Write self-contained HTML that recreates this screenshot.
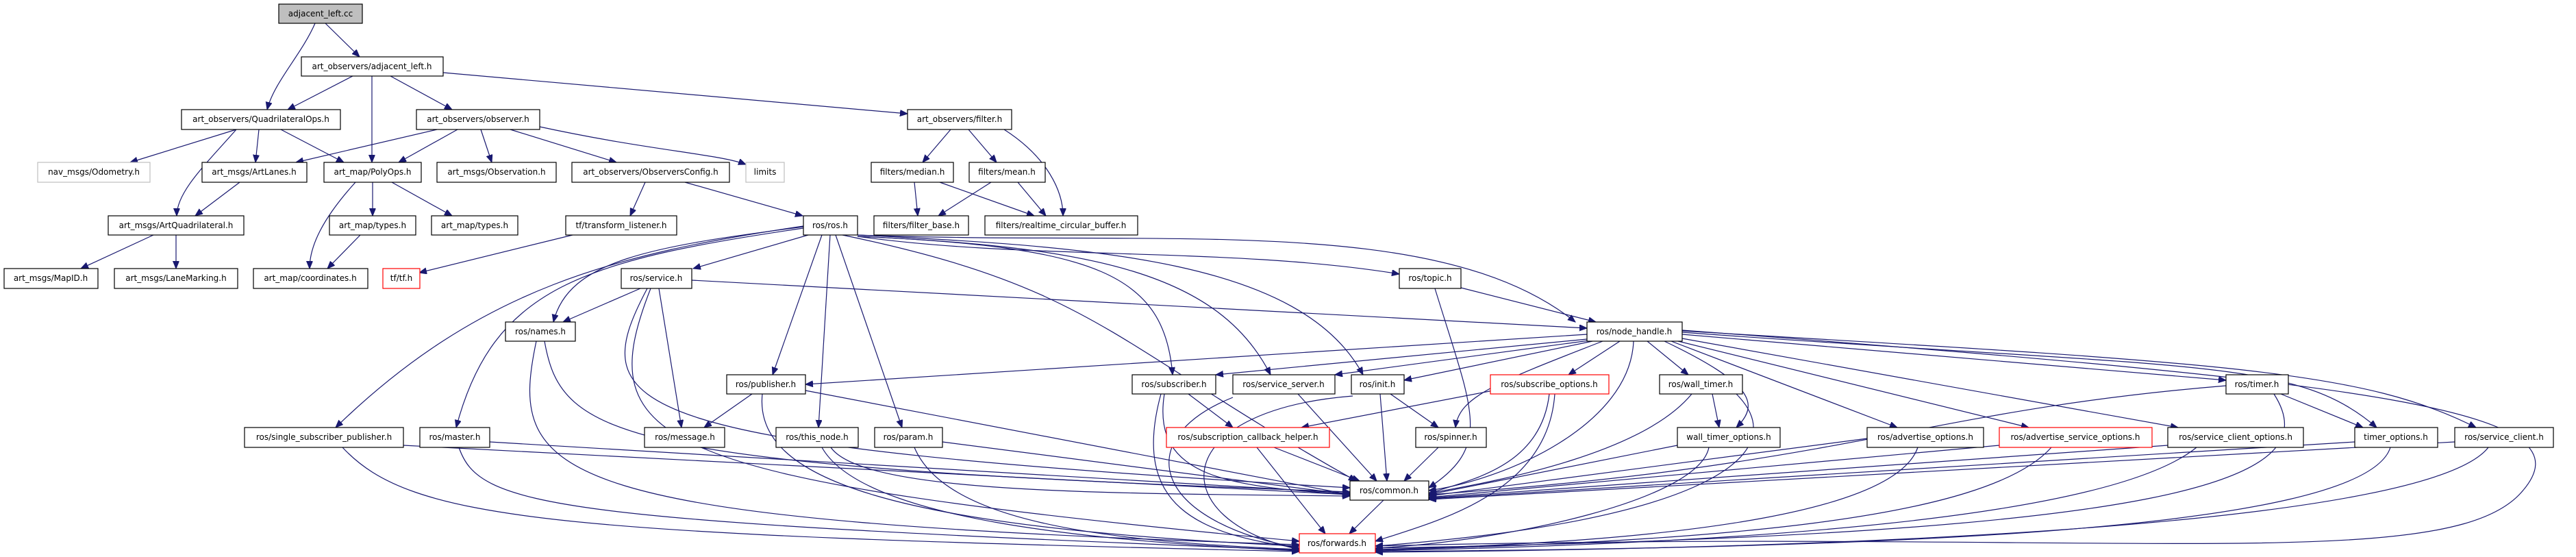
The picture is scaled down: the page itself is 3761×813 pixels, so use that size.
<!DOCTYPE html>
<html><head><meta charset="utf-8"><style>
html,body{margin:0;padding:0;background:#fff;width:3761px;height:813px;overflow:hidden}
svg{display:block}
text{font-family:"DejaVu Sans","Liberation Sans",sans-serif;font-size:12px;fill:#000;text-anchor:middle;dominant-baseline:central}
.e{fill:none;stroke:#191970;stroke-width:1.2;marker-end:url(#a)}
.n{fill:#fff;stroke:#000;stroke-width:1.2}
.r{fill:#fff;stroke:#f00;stroke-width:1.2}
.g{fill:#fff;stroke:#bfbfbf;stroke-width:1.2}
</style></head><body>
<svg width="3761" height="813" viewBox="0 0 3761 813" xmlns="http://www.w3.org/2000/svg">
<defs><marker id="a" markerUnits="userSpaceOnUse" markerWidth="12" markerHeight="10" refX="11" refY="4.5" orient="auto"><path d="M0,0 L11,4.5 L0,9 z" fill="#191970" stroke="#191970"/></marker></defs>
<g>
<path class="e" d="M475 34 L525 83"/>
<path class="e" d="M460 34 C440 80,400 120,390 160"/>
<path class="e" d="M515 111 L420 160"/>
<path class="e" d="M543 111 L543 237"/>
<path class="e" d="M570 111 L660 160"/>
<path class="e" d="M647 106 L1325 166"/>
<path class="e" d="M345 189 L190 237"/>
<path class="e" d="M378 189 L373 237"/>
<path class="e" d="M345 189 C300 240,258 280,258 315"/>
<path class="e" d="M410 189 L502 237"/>
<path class="e" d="M638 189 L432 237"/>
<path class="e" d="M668 189 L582 237"/>
<path class="e" d="M702 189 L718 237"/>
<path class="e" d="M745 189 L900 237"/>
<path class="e" d="M788 185 C950 220,1050 225,1089 240"/>
<path class="e" d="M1388 189 L1347 237"/>
<path class="e" d="M1414 189 L1455 237"/>
<path class="e" d="M1466 189 C1530 230,1552 280,1552 315"/>
<path class="e" d="M1335 266 L1340 315"/>
<path class="e" d="M1372 266 L1510 315"/>
<path class="e" d="M1447 266 L1370 315"/>
<path class="e" d="M1486 266 L1527 315"/>
<path class="e" d="M350 266 L285 315"/>
<path class="e" d="M544 266 L544 315"/>
<path class="e" d="M572 266 L660 315"/>
<path class="e" d="M519 266 C470 320,452 360,452 392"/>
<path class="e" d="M224 343 L118 392"/>
<path class="e" d="M257 343 L257 392"/>
<path class="e" d="M526 343 L478 392"/>
<path class="e" d="M942 266 L920 315"/>
<path class="e" d="M1000 266 L1172 315"/>
<path class="e" d="M836 343 L612 398"/>
<path class="e" d="M1180 343 L1012 392"/>
<path class="e" d="M1173 331 C950 360,830 380,808 470"/>
<path class="e" d="M1173 330 C900 370,700 420,490 624"/>
<path class="e" d="M1173 333 C850 380,720 420,666 624"/>
<path class="e" d="M1200 343 L1128 547"/>
<path class="e" d="M1212 343 L1195 624"/>
<path class="e" d="M1220 343 L1317 624"/>
<path class="e" d="M1230 343 C1600 420,1620 500,1980 702"/>
<path class="e" d="M1252 345 C1600 360,1700 400,1712 547"/>
<path class="e" d="M1252 345 C1600 360,1780 400,1855 547"/>
<path class="e" d="M1252 343 C1600 360,1900 380,1990 547"/>
<path class="e" d="M1252 345 C1500 380,1800 360,2043 400"/>
<path class="e" d="M1252 343 C1700 360,2100 310,2300 470"/>
<path class="e" d="M935 421 L822 470"/>
<path class="e" d="M962 421 L995 624"/>
<path class="e" d="M945 421 C850 600,900 650,1971 712"/>
<path class="e" d="M950 421 C860 650,950 700,1897 790"/>
<path class="e" d="M1010 409 L2317 479"/>
<path class="e" d="M795 498 C820 640,900 680,1971 718"/>
<path class="e" d="M783 498 C740 700,800 760,1897 795"/>
<path class="e" d="M1098 575 L1028 624"/>
<path class="e" d="M1176 570 L1971 722"/>
<path class="e" d="M1113 575 C1100 700,1300 770,1897 797"/>
<path class="e" d="M2133 420 L2330 470"/>
<path class="e" d="M2095 421 C2150 600,2180 650,2086 712"/>
<path class="e" d="M2317 488 L1176 561"/>
<path class="e" d="M2317 495 L1775 547"/>
<path class="e" d="M2320 497 L1949 547"/>
<path class="e" d="M2325 498 L2050 555"/>
<path class="e" d="M2340 498 C2180 560,2130 580,2125 624"/>
<path class="e" d="M2365 498 L2290 547"/>
<path class="e" d="M2385 498 C2380 620,2200 700,2086 716"/>
<path class="e" d="M2405 498 L2465 547"/>
<path class="e" d="M2430 498 C2560 560,2570 590,2535 624"/>
<path class="e" d="M2440 498 L2770 624"/>
<path class="e" d="M2450 498 L2962 624"/>
<path class="e" d="M2456 494 L3180 624"/>
<path class="e" d="M2456 488 L3250 555"/>
<path class="e" d="M2456 485 C3200 540,3350 520,3470 624"/>
<path class="e" d="M2456 483 C3250 530,3450 540,3615 624"/>
<path class="e" d="M2456 482 C3500 560,3790 600,3680 720 S3100 770,2008 797"/>
<path class="e" d="M2500 575 L2510 624"/>
<path class="e" d="M2470 575 C2400 660,2200 700,2086 720"/>
<path class="e" d="M2535 575 C2620 660,2500 760,2008 797"/>
<path class="e" d="M3330 575 L3450 624"/>
<path class="e" d="M3250 563 C2800 600,2700 680,2086 722"/>
<path class="e" d="M3320 575 C3400 700,3200 780,2008 800"/>
<path class="e" d="M1735 575 L1800 624"/>
<path class="e" d="M1700 575 C1680 700,1800 710,1971 722"/>
<path class="e" d="M1695 575 C1650 740,1750 780,1897 800"/>
<path class="e" d="M1895 575 L2010 702"/>
<path class="e" d="M1800 580 C1650 640,1680 760,1897 800"/>
<path class="e" d="M2030 575 L2100 624"/>
<path class="e" d="M2015 575 L2025 702"/>
<path class="e" d="M1975 578 C1700 600,1700 760,1897 802"/>
<path class="e" d="M2180 570 L1900 624"/>
<path class="e" d="M2262 575 C2250 680,2150 700,2086 720"/>
<path class="e" d="M2270 575 C2260 720,2100 760,2008 790"/>
<path class="e" d="M1860 653 L1985 702"/>
<path class="e" d="M1835 653 L1935 779"/>
<path class="e" d="M2100 653 L2050 702"/>
<path class="e" d="M589 650 L1971 722"/>
<path class="e" d="M500 653 C600 760,800 780,1897 805"/>
<path class="e" d="M715 645 L1971 720"/>
<path class="e" d="M670 653 C700 740,800 760,1897 803"/>
<path class="e" d="M1213 653 C1260 720,1600 720,1971 724"/>
<path class="e" d="M1200 653 C1260 760,1600 790,1897 804"/>
<path class="e" d="M1376 645 L1971 722"/>
<path class="e" d="M1335 653 C1380 760,1600 790,1897 802"/>
<path class="e" d="M2449 650 L2086 722"/>
<path class="e" d="M2495 653 C2480 730,2200 790,2008 800"/>
<path class="e" d="M2726 640 L2086 724"/>
<path class="e" d="M2800 653 C2770 740,2500 790,2008 802"/>
<path class="e" d="M2919 650 L2086 726"/>
<path class="e" d="M2995 653 C2900 760,2500 790,2008 803"/>
<path class="e" d="M3165 650 L2086 727"/>
<path class="e" d="M3207 653 C3100 740,2700 790,2008 804"/>
<path class="e" d="M3438 645 L2086 728"/>
<path class="e" d="M3490 653 C3450 780,2700 800,2008 805"/>
<path class="e" d="M3584 645 L2086 729"/>
<path class="e" d="M3633 653 C3550 760,2800 800,2008 806"/>
<path class="e" d="M2020 730 L1970 779"/>
</g>
<g>
<rect x="407" y="6" width="122" height="28" fill="#bfbfbf" stroke="#000" stroke-width="1.2"/><text x="468" y="20">adjacent_left.cc</text>
<rect class="n" x="440" y="83" width="207" height="28"/><text x="543" y="97">art_observers/adjacent_left.h</text>
<rect class="n" x="265" y="160" width="232" height="29"/><text x="381" y="174">art_observers/QuadrilateralOps.h</text>
<rect class="n" x="608" y="160" width="180" height="29"/><text x="698" y="174">art_observers/observer.h</text>
<rect class="n" x="1325" y="160" width="152" height="29"/><text x="1401" y="174">art_observers/filter.h</text>
<rect class="g" x="55" y="237" width="164" height="29"/><text x="137" y="251">nav_msgs/Odometry.h</text>
<rect class="n" x="295" y="237" width="153" height="29"/><text x="371" y="251">art_msgs/ArtLanes.h</text>
<rect class="n" x="473" y="237" width="142" height="29"/><text x="544" y="251">art_map/PolyOps.h</text>
<rect class="n" x="638" y="237" width="174" height="29"/><text x="725" y="251">art_msgs/Observation.h</text>
<rect class="n" x="835" y="237" width="230" height="29"/><text x="950" y="251">art_observers/ObserversConfig.h</text>
<rect class="g" x="1089" y="237" width="56" height="29"/><text x="1117" y="251">limits</text>
<rect class="n" x="1272" y="237" width="120" height="29"/><text x="1332" y="251">filters/median.h</text>
<rect class="n" x="1415" y="237" width="111" height="29"/><text x="1470" y="251">filters/mean.h</text>
<rect class="n" x="158" y="315" width="198" height="28"/><text x="257" y="329">art_msgs/ArtQuadrilateral.h</text>
<rect class="n" x="481" y="315" width="126" height="28"/><text x="544" y="329">art_map/types.h</text>
<rect class="n" x="630" y="315" width="126" height="28"/><text x="693" y="329">art_map/types.h</text>
<rect class="n" x="826" y="315" width="162" height="28"/><text x="907" y="329">tf/transform_listener.h</text>
<rect class="n" x="1173" y="315" width="79" height="28"/><text x="1212" y="329">ros/ros.h</text>
<rect class="n" x="1276" y="315" width="138" height="28"/><text x="1345" y="329">filters/filter_base.h</text>
<rect class="n" x="1438" y="315" width="223" height="28"/><text x="1549" y="329">filters/realtime_circular_buffer.h</text>
<rect class="n" x="6" y="392" width="137" height="29"/><text x="74" y="406">art_msgs/MapID.h</text>
<rect class="n" x="167" y="392" width="180" height="29"/><text x="257" y="406">art_msgs/LaneMarking.h</text>
<rect class="n" x="370" y="392" width="167" height="29"/><text x="453" y="406">art_map/coordinates.h</text>
<rect class="r" x="559" y="392" width="54" height="29"/><text x="586" y="406">tf/tf.h</text>
<rect class="n" x="907" y="392" width="103" height="29"/><text x="958" y="406">ros/service.h</text>
<rect class="n" x="2043" y="392" width="90" height="29"/><text x="2088" y="406">ros/topic.h</text>
<rect class="n" x="738" y="470" width="102" height="28"/><text x="789" y="484">ros/names.h</text>
<rect class="n" x="2317" y="470" width="139" height="28"/><text x="2386" y="484">ros/node_handle.h</text>
<rect class="n" x="1061" y="547" width="115" height="28"/><text x="1118" y="561">ros/publisher.h</text>
<rect class="n" x="1653" y="547" width="122" height="28"/><text x="1714" y="561">ros/subscriber.h</text>
<rect class="n" x="1800" y="547" width="149" height="28"/><text x="1874" y="561">ros/service_server.h</text>
<rect class="n" x="1973" y="547" width="77" height="28"/><text x="2011" y="561">ros/init.h</text>
<rect class="r" x="2176" y="547" width="173" height="28"/><text x="2262" y="561">ros/subscribe_options.h</text>
<rect class="n" x="2423" y="547" width="121" height="28"/><text x="2483" y="561">ros/wall_timer.h</text>
<rect class="n" x="3250" y="547" width="91" height="28"/><text x="3295" y="561">ros/timer.h</text>
<rect class="n" x="357" y="624" width="232" height="29"/><text x="473" y="638">ros/single_subscriber_publisher.h</text>
<rect class="n" x="613" y="624" width="102" height="29"/><text x="664" y="638">ros/master.h</text>
<rect class="n" x="941" y="624" width="117" height="29"/><text x="1000" y="638">ros/message.h</text>
<rect class="n" x="1133" y="624" width="120" height="29"/><text x="1193" y="638">ros/this_node.h</text>
<rect class="n" x="1277" y="624" width="99" height="29"/><text x="1326" y="638">ros/param.h</text>
<rect class="r" x="1703" y="624" width="238" height="29"/><text x="1822" y="638">ros/subscription_callback_helper.h</text>
<rect class="n" x="2067" y="624" width="103" height="29"/><text x="2118" y="638">ros/spinner.h</text>
<rect class="n" x="2449" y="624" width="150" height="29"/><text x="2524" y="638">wall_timer_options.h</text>
<rect class="n" x="2726" y="624" width="170" height="29"/><text x="2811" y="638">ros/advertise_options.h</text>
<rect class="r" x="2919" y="624" width="223" height="29"/><text x="3030" y="638">ros/advertise_service_options.h</text>
<rect class="n" x="3165" y="624" width="198" height="29"/><text x="3264" y="638">ros/service_client_options.h</text>
<rect class="n" x="3438" y="624" width="121" height="29"/><text x="3498" y="638">timer_options.h</text>
<rect class="n" x="3584" y="624" width="144" height="29"/><text x="3656" y="638">ros/service_client.h</text>
<rect class="n" x="1971" y="702" width="115" height="28"/><text x="2028" y="716">ros/common.h</text>
<rect class="r" x="1897" y="779" width="111" height="28"/><text x="1952" y="793">ros/forwards.h</text>
</g>
</svg>
</body></html>
